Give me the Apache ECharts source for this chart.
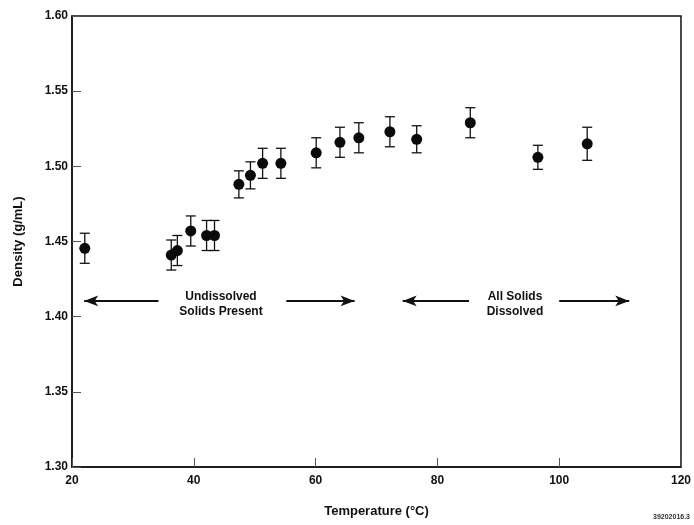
<!DOCTYPE html>
<html>
<head>
<meta charset="utf-8">
<script src="https://cdn.jsdelivr.net/npm/echarts@6/dist/echarts.min.js"></script>
<style>html,body{margin:0;padding:0;background:#fff}#c{width:694px;height:525px}</style>
</head>
<body>
<div id="c"></div>
<script>
const temperatures = [22.1, 36.3, 37.3, 39.5, 42.1, 43.4, 47.4, 49.3, 51.3, 54.3, 60.1, 64.0, 67.1, 72.2, 76.6, 85.4, 96.5, 104.6];
const densities    = [1.4455, 1.441, 1.444, 1.457, 1.454, 1.454, 1.488, 1.494, 1.502, 1.502, 1.509, 1.516, 1.519, 1.523, 1.518, 1.529, 1.506, 1.515];
const errors       = [0.010, 0.010, 0.010, 0.010, 0.010, 0.010, 0.009, 0.009, 0.010, 0.010, 0.010, 0.010, 0.010, 0.010, 0.009, 0.010, 0.008, 0.011];
const xTicks = [20, 40, 60, 80, 100, 120];
const yTicks = [1.30, 1.35, 1.40, 1.45, 1.50, 1.55, 1.60];

const font = '"Liberation Sans", Arial, sans-serif';
const chart = echarts.init(document.getElementById('c'));

const points = temperatures.map((t, i) => [t, densities[i]]);
const bars = temperatures.map((t, i) => [t, densities[i] - errors[i], densities[i] + errors[i]]);

chart.setOption({
  animation: false,
  backgroundColor: '#fff',
  grid: { left: 72, right: 12, top: 16, bottom: 58, show: true, borderColor: '#111', borderWidth: 1.5 },
  xAxis: {
    type: 'value', min: xTicks[0], max: xTicks[xTicks.length - 1], interval: 20,
    name: 'Temperature (°C)', nameLocation: 'middle', nameGap: 38,
    nameTextStyle: { fontFamily: font, fontWeight: 'bold', fontSize: 13, color: '#111' },
    axisLine: { lineStyle: { color: '#111', width: 1.5 } },
    axisTick: { inside: true, length: 9, lineStyle: { color: '#555', width: 1 } },
    axisLabel: { fontFamily: font, fontWeight: 'bold', fontSize: 12, color: '#111', margin: 8 },
    splitLine: { show: false }
  },
  yAxis: {
    type: 'value', min: yTicks[0], max: yTicks[yTicks.length - 1], interval: 0.05,
    name: 'Density (g/mL)', nameLocation: 'middle', nameGap: 47,
    nameTextStyle: { fontFamily: font, fontWeight: 'bold', fontSize: 13, color: '#111' },
    axisLine: { lineStyle: { color: '#111', width: 1.5 } },
    axisTick: { inside: true, length: 9, lineStyle: { color: '#555', width: 1 } },
    axisLabel: { fontFamily: font, fontWeight: 'bold', fontSize: 12, color: '#111', margin: 4,
      formatter: v => v.toFixed(2) },
    splitLine: { show: false }
  },
  series: [
    {
      type: 'custom',
      data: bars,
      renderItem: function (params, api) {
        const x = api.value(0);
        const lo = api.coord([x, api.value(1)]);
        const hi = api.coord([x, api.value(2)]);
        const w = 5;
        const st = { stroke: '#111', lineWidth: 1.3 };
        return {
          type: 'group',
          children: [
            { type: 'line', shape: { x1: lo[0], y1: lo[1], x2: hi[0], y2: hi[1] }, style: st },
            { type: 'line', shape: { x1: lo[0] - w, y1: lo[1], x2: lo[0] + w, y2: lo[1] }, style: st },
            { type: 'line', shape: { x1: hi[0] - w, y1: hi[1], x2: hi[0] + w, y2: hi[1] }, style: st }
          ]
        };
      },
      z: 2
    },
    {
      type: 'scatter',
      data: points,
      symbol: 'circle',
      symbolSize: 11,
      itemStyle: { color: '#0a0a0a', opacity: 1 },
      z: 3,
      markLine: {
        silent: true,
        symbolSize: [8, 14],
        lineStyle: { color: '#111', width: 2, type: 'solid' },
        label: { show: false },
        data: [
          [{ coord: [22.0, 1.4105], symbol: 'arrow' }, { coord: [34.2, 1.4105], symbol: 'none' }],
          [{ coord: [55.2, 1.4105], symbol: 'none' }, { coord: [66.4, 1.4105], symbol: 'arrow' }],
          [{ coord: [74.3, 1.4105], symbol: 'arrow' }, { coord: [85.2, 1.4105], symbol: 'none' }],
          [{ coord: [100.0, 1.4105], symbol: 'none' }, { coord: [111.5, 1.4105], symbol: 'arrow' }]
        ]
      }
    }
  ],
  graphic: [
    { type: 'text', x: 221, y: 289, style: { text: 'Undissolved\nSolids Present', font: 'bold 12px ' + font, fill: '#111', textAlign: 'center', lineHeight: 15 } },
    { type: 'text', x: 515, y: 289, style: { text: 'All Solids\nDissolved', font: 'bold 12px ' + font, fill: '#111', textAlign: 'center', lineHeight: 15 } },
    { type: 'text', x: 690, y: 514, style: { text: '39202016.3', font: 'bold 7px ' + font, fill: '#333', textAlign: 'right' } }
  ]
});
</script>
</body>
</html>
